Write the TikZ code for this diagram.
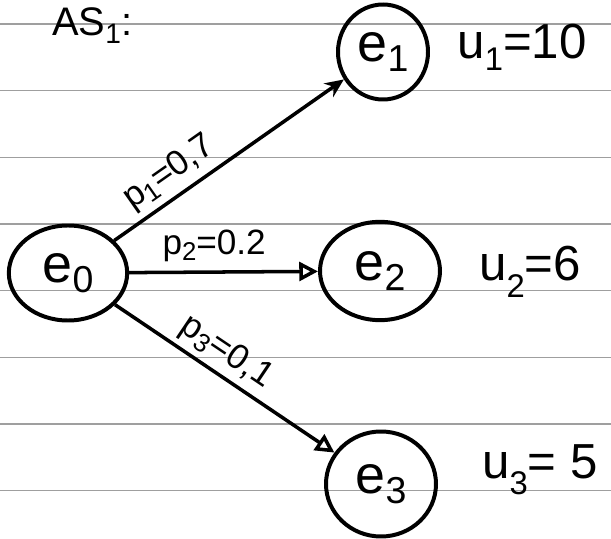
\documentclass[tikz,border=0pt]{standalone}
\usepackage{fontspec}
\setmainfont{Liberation Sans}
\usetikzlibrary{arrows.meta,shapes.geometric}
\newcommand{\sbs}[2]{\raisebox{-#1}{\fontsize{22}{22}\selectfont #2}}
\begin{document}
\begin{tikzpicture}[x=0.03cm,y=-0.03cm,
  ruling/.style={draw=gray!75,line width=1pt},
  state/.style={ellipse,draw=black,line width=3.4pt,inner sep=0pt,font=\fontsize{46}{46}\selectfont},
  conn/.style={draw=black,line width=3pt},
  plabel/.style={font=\fontsize{30}{30}\selectfont,inner sep=2pt},
  ulabel/.style={font=\fontsize{42}{42}\selectfont,inner sep=0pt}]
\useasboundingbox (0,0) rectangle (611,539);
\foreach \yy in {24,90.7,157.3,224,290.7,357.3,424,490.7}
  \draw[ruling] (0,\yy) -- (611,\yy);
\node[font=\fontsize{34}{34}\selectfont,anchor=base west,inner sep=0pt] (title) at (52,36) {AS\raisebox{-6pt}{\fontsize{24}{24}\selectfont 1}:};
\node[state,minimum width=3.55cm,minimum height=2.85cm] (e0) at (68,273) {e\raisebox{-8pt}{\fontsize{32}{32}\selectfont 0}};
\node[state,minimum width=2.7cm,minimum height=2.85cm] (e1) at (383,52) {e\raisebox{-8pt}{\fontsize{32}{32}\selectfont 1}};
\node[state,minimum width=3.6cm,minimum height=2.95cm] (e2) at (380,271) {e\raisebox{-8pt}{\fontsize{32}{32}\selectfont 2}};
\node[state,minimum width=3.3cm,minimum height=3.15cm] (e3) at (381,484) {e\raisebox{-8pt}{\fontsize{32}{32}\selectfont 3}};
\draw[conn,-{Stealth[length=16pt,width=14pt]}] (e0) -- (e1) node[plabel,pos=0.3,sloped,above=3pt] (p1) {p\sbs{5pt}{1}=0,7};
\draw[conn,-{Triangle[open,length=16pt,width=16pt]}] (e0) -- (e2) node[plabel,pos=0.45,above=5pt] (p2) {p\sbs{5pt}{2}=0.2};
\draw[conn,-{Triangle[open,length=16pt,width=16pt]}] (e0) -- (e3) node[plabel,pos=0.45,sloped,above=2pt] (p3) {p\sbs{5pt}{3}=0,1};
\node[ulabel] (u1) at (522,47) {u\raisebox{-10pt}{\fontsize{28}{28}\selectfont 1}=10};
\node[ulabel] (u2) at (530,272) {u\raisebox{-14pt}{\fontsize{28}{28}\selectfont 2}=6};
\node[ulabel] (u3) at (540,470) {u\raisebox{-14pt}{\fontsize{28}{28}\selectfont 3}= 5};
\end{tikzpicture}
\end{document}
